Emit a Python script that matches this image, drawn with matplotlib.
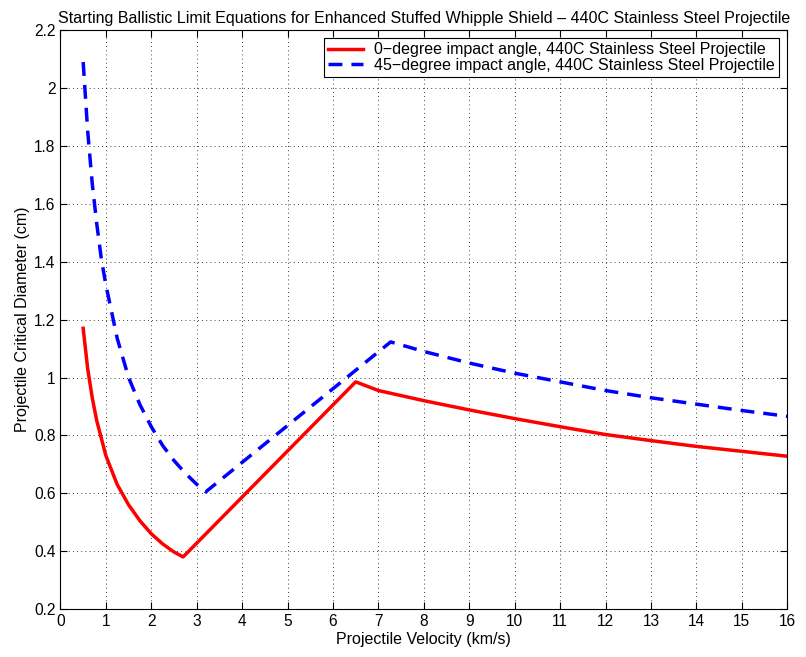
import numpy as np
import matplotlib
matplotlib.use('Agg')
import matplotlib.pyplot as plt

plt.rcParams['font.family'] = ['Liberation Sans', 'DejaVu Sans']

# velocities (km/s) and critical diameters (cm)
v_0deg = [0.5, 0.6, 0.7, 0.8, 0.9, 1.0, 1.25, 1.5, 1.75, 2.0, 2.25, 2.5, 2.7,
          6.5, 7, 8, 9, 10, 11, 12, 13, 14, 15, 16]
d_0deg = [1.17, 1.03, 0.93, 0.85, 0.79, 0.73, 0.63, 0.56, 0.505, 0.46, 0.425, 0.397, 0.38,
          0.985, 0.955, 0.92, 0.888, 0.858, 0.83, 0.803, 0.782, 0.762, 0.745, 0.728]

v_45deg = [0.5, 0.6, 0.7, 0.8, 0.9, 1.0, 1.25, 1.5, 1.75, 2.0, 2.25, 2.5, 2.75, 3.0, 3.2,
           7.27, 8, 9, 10, 11, 12, 13, 14, 15, 16]
d_45deg = [2.09, 1.85, 1.67, 1.53, 1.41, 1.32, 1.135, 1.0, 0.906, 0.83, 0.765, 0.713, 0.669, 0.631, 0.605,
           1.123, 1.09, 1.05, 1.015, 0.985, 0.955, 0.93, 0.908, 0.886, 0.866]

labels = ['0\u2212degree impact angle, 440C Stainless Steel Projectile',
          '45\u2212degree impact angle, 440C Stainless Steel Projectile']

fig = plt.figure(figsize=(8.06, 6.57), dpi=100)
ax = fig.add_axes([0.075, 0.073, 0.9017, 0.881])

ax.plot(v_0deg, d_0deg, '-', color='#ff0000', lw=2.5, label=labels[0])
ax.plot(v_45deg, d_45deg, '--', color='#0000ff', lw=2.5, dashes=(4, 2.6), label=labels[1])

ax.set_xlim(0, 16)
ax.set_ylim(0.2, 2.2)
ax.set_xticks(np.arange(0, 17, 1))
ax.set_yticks(np.arange(0.2, 2.21, 0.2))
ax.set_yticklabels(['0.2', '0.4', '0.6', '0.8', '1', '1.2', '1.4', '1.6', '1.8', '2', '2.2'])
ax.tick_params(direction='in', length=5, labelsize=11.2, top=True, right=True)
ax.grid(True, color='black', linestyle=(0, (1, 4)), linewidth=0.6)

ax.set_xlabel('Projectile Velocity (km/s)', fontsize=11.5, labelpad=2)
ax.set_ylabel('Projectile Critical Diameter (cm)', fontsize=11.5, labelpad=3)
ax.set_title('Starting Ballistic Limit Equations for Enhanced Stuffed Whipple Shield \u2013 440C Stainless Steel Projectile',
             fontsize=11.5, pad=5)

leg = ax.legend(loc='upper right', fontsize=11.5, fancybox=False, framealpha=1,
                edgecolor='black', handlelength=2.2, borderpad=0.25, labelspacing=0.05,
                borderaxespad=0.5, handletextpad=0.7)
leg.get_frame().set_linewidth(0.8)

fig.savefig('out.png', dpi=100)
